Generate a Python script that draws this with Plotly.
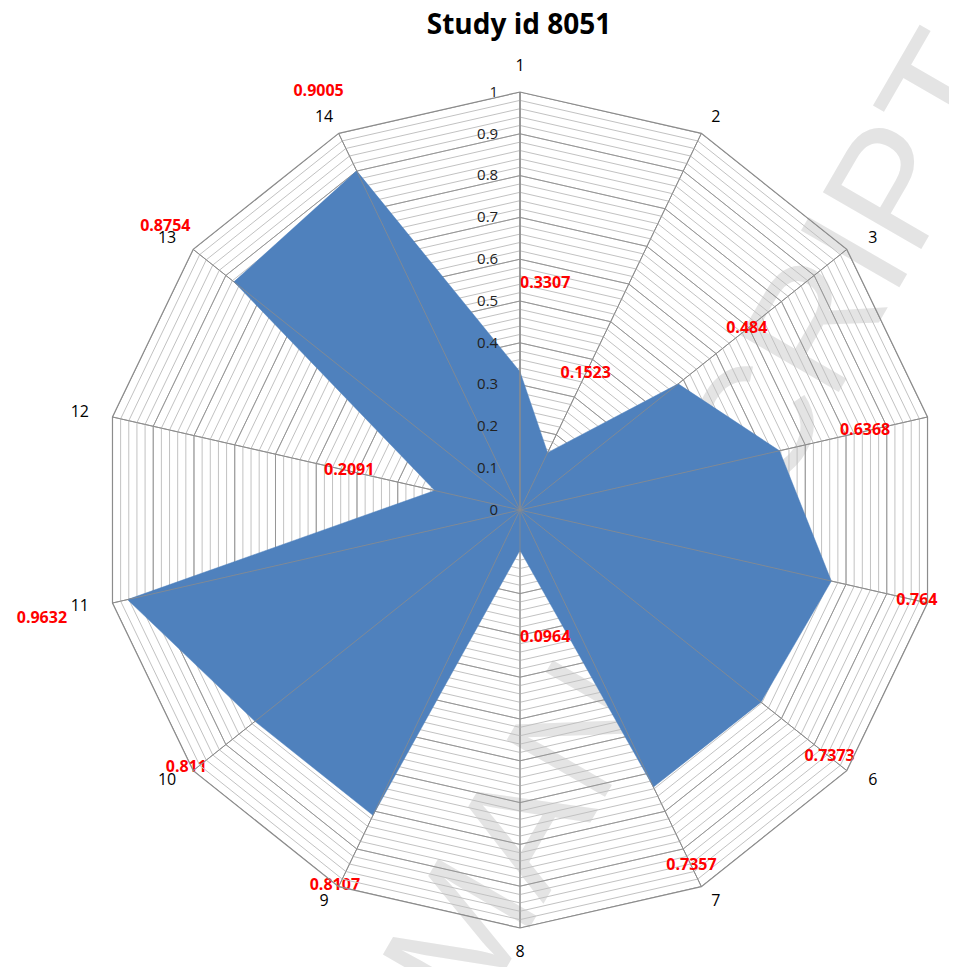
import numpy as np
import plotly.graph_objects as go

# ---- data ----
categories = ["1", "2", "3", "4", "5", "6", "7", "8", "9", "10", "11", "12", "13", "14"]
values = [0.3307, 0.1523, 0.484, 0.6368, 0.764, 0.7373, 0.7357,
          0.0964, 0.8107, 0.811, 0.9632, 0.2091, 0.8754, 0.9005]
value_labels = ["0.3307", "0.1523", "0.484", "0.6368", "0.764", "0.7373", "0.7357",
                "0.0964", "0.8107", "0.811", "0.9632", "0.2091", "0.8754", "0.9005"]
major_ticks = [0, 0.1, 0.2, 0.3, 0.4, 0.5, 0.6, 0.7, 0.8, 0.9, 1.0]
major_tick_labels = ["0", "0.1", "0.2", "0.3", "0.4", "0.5", "0.6", "0.7", "0.8", "0.9", "1"]
minor_step = 0.02
title_text = "Study id 8051"
watermark_text = "ACCEPTED MANUSCRIPT"

# ---- styles ----
FILL = "#4F81BD"
MINOR_GRID = "#c2c2c2"
MAJOR_GRID = "#969696"
AXIS_GRAY = "#8c8c8c"
LABEL_OFFSET = 0.21
CAT_GAP_X = 0.08    # horizontal stand-off of category labels (radial units)
CAT_GAP_Y = 0.041   # vertical stand-off of category labels (radial units)
LABEL_FONT = dict(color="#ff0000", size=16, family="Open Sans", weight="bold")
# text placement of each value label relative to its anchor
label_positions = ["middle right", "middle center", "middle center", "middle center",
                   "middle center", "middle center", "middle center", "middle right",
                   "top center", "top center", "middle center", "middle center",
                   "middle center", "middle center"]

n_minor = int(round(1 / minor_step))
grid_vals = [round(i * minor_step, 2) for i in range(n_minor + 1)]
grid_text = []
for v in grid_vals:
    lab = ""
    for mv, ml in zip(major_ticks, major_tick_labels):
        if abs(mv - v) < 1e-9:
            lab = ml
    grid_text.append(lab)

closed_theta = categories + [categories[0]]
n = len(categories)
ang = np.arange(n) * 2 * np.pi / n  # clockwise from the top

fig = go.Figure()

# darker rings at the major ticks
for mv in major_ticks[1:]:
    fig.add_trace(go.Scatterpolar(
        r=[mv] * len(closed_theta), theta=closed_theta, mode="lines",
        line=dict(color=MAJOR_GRID, width=1), hoverinfo="skip", showlegend=False))

# the data area
fig.add_trace(go.Scatterpolar(
    r=values + [values[0]], theta=closed_theta, mode="lines", fill="toself",
    fillcolor=FILL, line=dict(color=FILL, width=0.5), showlegend=False))

# spokes drawn over the fill
spoke_r, spoke_t = [], []
for c in categories:
    spoke_r += [0, 1, None]
    spoke_t += [c, c, None]
fig.add_trace(go.Scatterpolar(
    r=spoke_r, theta=spoke_t, mode="lines",
    line=dict(color=AXIS_GRAY, width=0.8), hoverinfo="skip", showlegend=False))

# value labels: those inside the radial range on the polar subplot
label_r = [v + LABEL_OFFSET for v in values]
inside = [i for i in range(n) if label_r[i] <= 1.0]
outside = [i for i in range(n) if label_r[i] > 1.0]
fig.add_trace(go.Scatterpolar(
    r=[label_r[i] for i in inside], theta=[categories[i] for i in inside], mode="text",
    text=[value_labels[i] for i in inside], textposition=[label_positions[i] for i in inside],
    textfont=LABEL_FONT, hoverinfo="skip", showlegend=False))

# labels beyond the outer ring: drawn on an overlay cartesian frame in the same units
fig.add_trace(go.Scatter(
    x=[label_r[i] * np.sin(ang[i]) for i in outside],
    y=[label_r[i] * np.cos(ang[i]) for i in outside],
    mode="text", text=[value_labels[i] for i in outside],
    textposition=[label_positions[i] for i in outside], textfont=LABEL_FONT,
    cliponaxis=False, hoverinfo="skip", showlegend=False))

# category labels around the outside
cat_x = np.sin(ang) * (1 + CAT_GAP_X)
cat_y = np.cos(ang) * (1 + CAT_GAP_Y)
cat_pos = []
for a in ang:
    cv, sv = np.cos(a), np.sin(a)
    if cv > 0.99:
        cat_pos.append("top center")
    elif cv < -0.99:
        cat_pos.append("bottom center")
    elif sv > 0.95:
        cat_pos.append("middle left")   # keep the right-most labels inside the frame
    else:
        cat_pos.append("middle center")
fig.add_trace(go.Scatter(
    x=cat_x, y=cat_y, mode="text", text=categories, textposition=cat_pos,
    textfont=dict(color="black", size=16, family="Open Sans"),
    cliponaxis=False, hoverinfo="skip", showlegend=False))

W, H = 957, 967
cx, cy, R = 512, 502, 418          # polar centre / radius in layout pixels
wm_x, wm_y = 440, 915              # watermark text centre in layout pixels

fig.update_layout(
    width=W, height=H,
    margin=dict(l=0, r=0, t=0, b=0),
    paper_bgcolor="white", plot_bgcolor="rgba(0,0,0,0)",
    title=dict(text="<b>" + title_text + "</b>", x=511 / W, xanchor="center",
               y=1 - 16 / H, yanchor="middle",
               font=dict(family="Open Sans", size=28, color="black")),
    xaxis=dict(domain=[0, 1], range=[(0 - cx) / R, (W - cx) / R], visible=False, fixedrange=True),
    yaxis=dict(domain=[0, 1], range=[-(H - cy) / R, cy / R], visible=False, fixedrange=True),
    polar=dict(
        domain=dict(x=[(cx - R) / W, (cx + R) / W], y=[(H - cy - R) / H, (H - cy + R) / H]),
        gridshape="linear",
        bgcolor="rgba(0,0,0,0)",
        angularaxis=dict(
            type="category", categoryarray=categories, rotation=90, direction="clockwise",
            showgrid=True, gridcolor=AXIS_GRAY, gridwidth=1,
            showline=True, linecolor=AXIS_GRAY, linewidth=1.2,
            ticks="", showticklabels=False),
        radialaxis=dict(
            range=[0, 1], angle=90, side="counterclockwise", tickangle=90,
            tickvals=grid_vals, ticktext=grid_text,
            showgrid=True, gridcolor=MINOR_GRID, gridwidth=1,
            showline=True, linecolor=AXIS_GRAY, linewidth=1.2,
            ticks="outside", ticklen=16, tickcolor="rgba(0,0,0,0)",
            layer="above traces",
            tickfont=dict(family="Open Sans", size=15, color="#222222")),
    ),
    shapes=[dict(
        type="rect", xref="paper", yref="paper", layer="below",
        x0=wm_x / W - 0.5, x1=wm_x / W + 0.5,
        y0=(1 - wm_y / H) - 0.5, y1=(1 - wm_y / H) + 0.5,
        line=dict(width=0), fillcolor="rgba(0,0,0,0)",
        label=dict(text=watermark_text, textangle=-60, textposition="middle center",
                   font=dict(family="Liberation Sans", size=165, color="#e4e4e4")),
    )],
)

fig.write_html("out.html")
